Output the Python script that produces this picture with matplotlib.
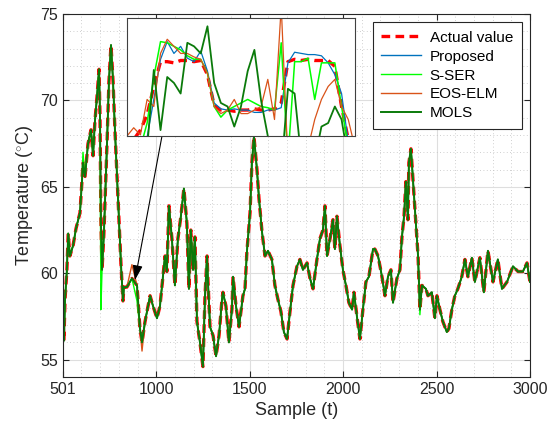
import matplotlib
matplotlib.use("Agg")
import matplotlib.pyplot as plt
from matplotlib.ticker import MultipleLocator

plt.rcParams['font.family'] = ['Liberation Sans', 'DejaVu Sans']
plt.rcParams['mathtext.fontset'] = 'custom'
plt.rcParams['mathtext.rm'] = 'Liberation Sans'

# Measured temperature (actual value), samples 501..3000
sample = [501, 506, 512, 522, 529, 538, 555, 571, 592, 603, 608, 619, 635, 651, 662,
          672, 683, 694, 699, 704, 710, 720, 736, 747, 758, 769, 779, 795, 811, 822,
          827, 843, 870, 897, 913, 924, 940, 967, 983, 1004, 1020, 1036, 1047, 1057,
          1068, 1084, 1100, 1116, 1132, 1148, 1164, 1175, 1185, 1197, 1207, 1218, 1234,
          1250, 1261, 1272, 1277, 1288, 1304, 1320, 1336, 1352, 1357, 1373, 1389, 1405,
          1411, 1427, 1443, 1464, 1475, 1485, 1502, 1512, 1523, 1539, 1550, 1566, 1582,
          1598, 1619, 1635, 1651, 1667, 1683, 1700, 1716, 1732, 1753, 1769, 1785, 1807,
          1823, 1839, 1860, 1876, 1892, 1903, 1914, 1930, 1946, 1956, 1967, 1983, 1999,
          2015, 2031, 2048, 2058, 2074, 2090, 2106, 2122, 2138, 2160, 2170, 2187, 2208,
          2224, 2240, 2256, 2267, 2288, 2304, 2315, 2326, 2336, 2347, 2352, 2363, 2374,
          2390, 2401, 2411, 2422, 2443, 2454, 2475, 2491, 2502, 2518, 2534, 2555, 2566,
          2582, 2598, 2614, 2635, 2652, 2668, 2689, 2705, 2732, 2753, 2775, 2802, 2828,
          2850, 2877, 2909, 2936, 2962, 2984, 3000]
actual = [57.7, 56.1, 58.5, 60.2, 62.3, 61.0, 61.6, 62.6, 63.5, 65.4, 66.4, 65.6, 67.5,
          68.3, 66.8, 68.8, 70.2, 71.8, 69.2, 63.0, 60.2, 62.3, 67.3, 71.1, 73.2, 71.1,
          68.3, 64.4, 60.6, 58.4, 59.2, 59.2, 59.7, 59.3, 56.8, 56.0, 57.2, 58.7, 58.1,
          57.4, 58.1, 59.8, 61.0, 60.1, 63.9, 62.0, 59.3, 62.0, 63.3, 64.9, 62.9, 59.1,
          62.5, 60.2, 62.1, 57.2, 56.0, 54.6, 58.7, 61.0, 59.5, 56.9, 56.4, 55.2, 56.4,
          58.5, 58.9, 58.1, 56.0, 57.9, 59.8, 58.1, 56.9, 58.7, 59.1, 61.2, 63.5, 66.4,
          67.9, 66.0, 64.3, 62.4, 61.0, 61.3, 60.8, 59.3, 58.5, 57.8, 56.6, 56.2, 57.8,
          59.3, 60.4, 60.8, 60.2, 60.6, 59.7, 59.1, 60.8, 62.0, 62.5, 63.9, 61.0, 62.0,
          63.1, 61.4, 63.3, 61.6, 60.2, 59.3, 58.3, 57.9, 58.9, 57.5, 56.2, 57.9, 59.5,
          59.8, 61.4, 61.4, 61.0, 59.8, 58.7, 59.8, 60.2, 58.3, 59.7, 60.2, 62.1, 63.3,
          65.3, 63.1, 66.4, 67.2, 65.4, 62.7, 61.0, 57.9, 59.3, 59.1, 58.7, 58.9, 57.4,
          58.7, 57.9, 57.2, 56.6, 56.8, 57.9, 58.7, 59.1, 59.8, 60.8, 59.8, 60.9, 59.5,
          60.9, 58.9, 61.3, 59.5, 60.8, 59.1, 59.5, 60.4, 60.1, 60.1, 60.6, 59.5]

# Samples where the predictions leave the measured curve
sser_t = [608, 704, 897, 2411]
sser_v = [67.0, 57.9, 58.4, 57.6]
eos_t = [870, 924]
eos_v = [60.5, 55.5]

# Zoomed detail (normalised temperature)
inset_t = list(range(862, 897))
inset_actual = [-0.10, -0.03, 0.05, 0.18, 0.42, 0.63, 0.63, 0.62, 0.64, 0.64, 0.63, 0.64,
                0.52, 0.26, 0.22, 0.22, 0.21, 0.22, 0.22, 0.23, 0.22, 0.22, 0.23, 0.28,
                0.63, 0.65, 0.64, 0.65, 0.64, 0.64, 0.64, 0.59, 0.25, -0.03, -0.20]
inset_prop = [-0.2, -0.2, -0.1, -0.01, 0.31, 0.65, 0.80, 0.70, 0.76, 0.66, 0.63, 0.72,
              0.55, 0.28, 0.23, 0.22, 0.23, 0.22, 0.22, 0.20, 0.20, 0.22, 0.22, 0.24,
              0.62, 0.71, 0.70, 0.69, 0.69, 0.68, 0.62, 0.52, 0.36, -0.05, -0.2]
inset_sser = [-0.2, -0.2, -0.1, 0.11, 0.50, 0.80, 0.79, 0.76, 0.73, 0.68, 0.65, 0.65,
              0.53, 0.25, 0.16, 0.22, 0.25, 0.28, 0.31, 0.28, 0.25, 0.24, 0.22, 0.79,
              -0.2, 0.63, 0.63, 0.66, 0.31, 0.62, 0.62, 0.62, 0.25, -0.1, -0.2]
inset_eos = [0.0, 0.07, 0.01, 0.31, 0.25, 0.70, 0.82, 0.76, 0.70, 0.70, 0.67, 0.65,
             0.53, 0.25, 0.19, 0.22, 0.31, 0.19, 0.19, 0.22, 0.25, 0.48, 0.14, 1.10,
             -0.2, -0.2, -0.2, -0.1, 0.14, 0.31, 0.42, 0.48, 0.25, 0.14, -0.1]
inset_mols = [-0.2, -0.2, -0.2, -0.1, 0.56, 0.05, 0.50, 0.45, 0.36, 0.79, 0.76, 0.70,
              0.93, 0.45, 0.28, 0.25, 0.08, 0.25, 0.55, 0.73, 0.30, 0.0, -0.3, -0.3,
              0.40, 0.36, -0.2, -0.2, -0.2, 0.08, 0.11, 0.25, 0.14, -0.2, -0.3]


def with_spikes(base, t, v):
    out = list(base)
    for ti, vi in zip(t, v):
        out[sample.index(ti)] = vi
    return out


proposed = list(actual)
s_ser = with_spikes(actual, sser_t, sser_v)
eos_elm = with_spikes(actual, eos_t, eos_v)
mols = list(actual)

c_act = '#FF0000'
c_prop = '#0072BD'
c_sser = '#00FF00'
c_eos = '#D95319'
c_mols = '#0A7A0A'

fig = plt.figure(figsize=(5.5, 4.3), dpi=100)
ax = fig.add_axes([0.1145, 0.1233, 0.8491, 0.8442])

ax.plot(sample, actual, '--', color=c_act, lw=2.4, dashes=(2.6, 1.6), label='Actual value')
ax.plot(sample, proposed, color=c_prop, lw=1.0, label='Proposed')
ax.plot(sample, s_ser, color=c_sser, lw=1.0, label='S-SER')
ax.plot(sample, eos_elm, color=c_eos, lw=1.0, label='EOS-ELM')
ax.plot(sample, mols, color=c_mols, lw=1.4, label='MOLS')

ax.set_xlim(501, 3000)
ax.set_ylim(54, 75)
ax.set_xticks([501, 1000, 1500, 2000, 2500, 3000])
ax.set_yticks([55, 60, 65, 70, 75])
ax.xaxis.set_minor_locator(MultipleLocator(100))
ax.yaxis.set_minor_locator(MultipleLocator(1))
ax.grid(True, which='major', color='#DEDEDE', lw=0.8)
ax.grid(True, which='minor', color='#C0C0C0', lw=0.6, linestyle=(0, (1, 3)))
ax.set_axisbelow(True)
ax.tick_params(which='both', direction='in', top=True, right=True, labelsize=11.5,
               color='#262626', length=4, labelcolor='#262626')
ax.tick_params(which='minor', length=0)
for sp in ax.spines.values():
    sp.set_color('#262626')
    sp.set_linewidth(0.8)

ax.set_xlabel('Sample (t)', fontsize=13, color='#262626')
ax.set_ylabel('Temperature ($^{\\circ}$C)', fontsize=13, color='#262626')

leg = ax.legend(loc='upper right', fontsize=11, handlelength=2.6, labelspacing=0.32,
                borderpad=0.55, borderaxespad=0.55, handletextpad=0.6,
                fancybox=False, framealpha=1)
leg.get_frame().set_edgecolor('#262626')
leg.get_frame().set_linewidth(0.8)

# Arrow from the detail box down to the zoomed region
ax.annotate('', xy=(886, 59.6), xytext=(1031, 67.95),
            arrowprops=dict(arrowstyle='-|>,head_length=0.9,head_width=0.3',
                            color='k', lw=0.8, shrinkA=0, shrinkB=0))

ins = fig.add_axes([0.2309, 0.6837, 0.4145, 0.2744])
ins.plot(inset_t, inset_actual, '--', color=c_act, lw=2.4, dashes=(2.6, 1.6))
ins.plot(inset_t, inset_prop, color=c_prop, lw=0.9)
ins.plot(inset_t, inset_sser, color=c_sser, lw=1.1)
ins.plot(inset_t, inset_eos, color=c_eos, lw=0.9)
ins.plot(inset_t, inset_mols, color=c_mols, lw=1.3)
ins.set_xlim(862, 896)
ins.set_ylim(0, 1)
ins.set_xticks([])
ins.set_yticks([])
for sp in ins.spines.values():
    sp.set_color('#404040')
    sp.set_linewidth(0.8)

fig.savefig('out.png', dpi=100)
